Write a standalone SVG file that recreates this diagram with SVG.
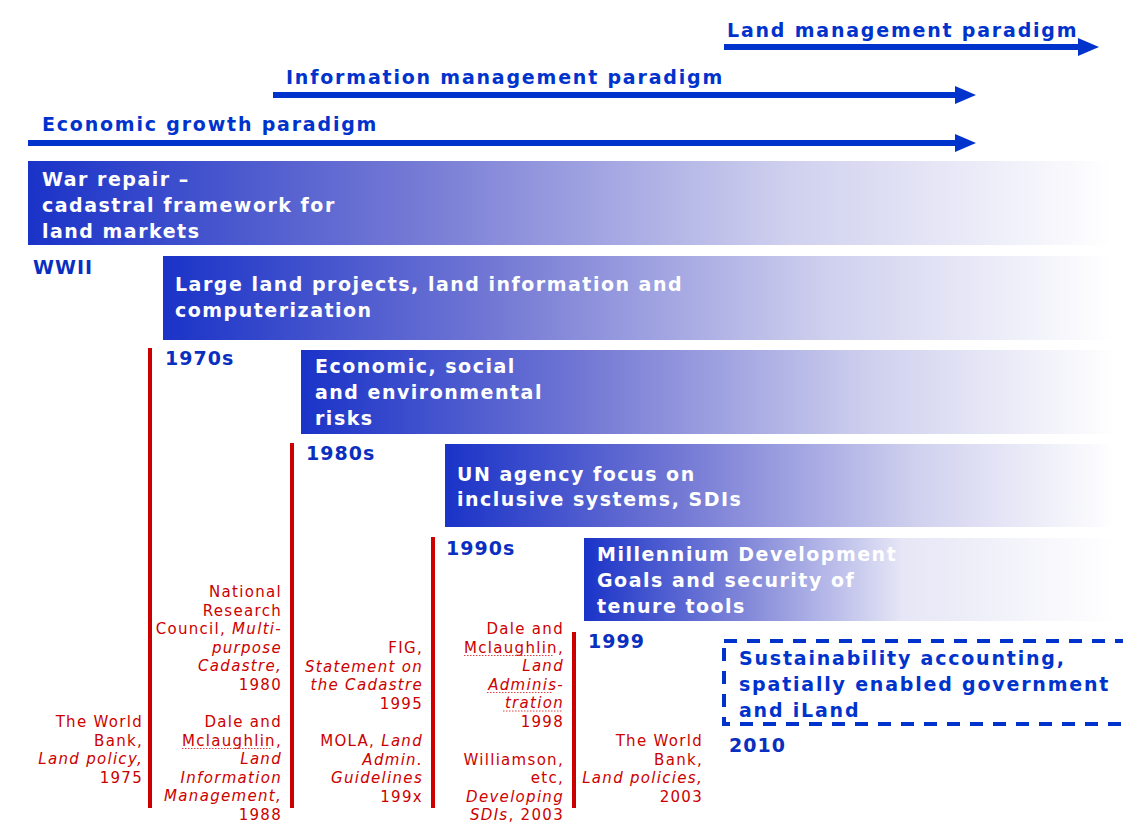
<svg xmlns="http://www.w3.org/2000/svg" width="1123" height="837" viewBox="0 0 1123 837">
<defs>
<linearGradient id="fade" x1="0" y1="0" x2="1" y2="0">
<stop offset="0" stop-color="#1a33c8"/>
<stop offset="0.35" stop-color="#7378d4"/>
<stop offset="0.7" stop-color="#cfd0ee"/>
<stop offset="1" stop-color="#ffffff"/>
</linearGradient>
<linearGradient id="fadeFast" x1="0" y1="0" x2="1" y2="0">
<stop offset="0" stop-color="#1a33c8"/>
<stop offset="0.3" stop-color="#8086d8"/>
<stop offset="0.6" stop-color="#e6e6f6"/>
<stop offset="1" stop-color="#ffffff"/>
</linearGradient>
<marker id="ah" markerUnits="userSpaceOnUse" markerWidth="22" markerHeight="20" refX="2" refY="10" orient="auto">
<path d="M0,1 L21,10 L0,19 Z" fill="#0033cc"/>
</marker>
</defs>
<style>
.hd{font-family:"DejaVu Sans","Verdana",sans-serif;font-weight:bold;font-size:19px;letter-spacing:1.8px;fill:#0033cc}
.bt{font-family:"DejaVu Sans","Verdana",sans-serif;font-weight:bold;font-size:19px;letter-spacing:1.5px;fill:#ffffff}
.yr{font-family:"DejaVu Sans","Verdana",sans-serif;font-weight:bold;font-size:19px;letter-spacing:1px;fill:#0a2fc0}
.rt{font-family:"DejaVu Sans","Verdana",sans-serif;font-size:15px;letter-spacing:1.3px;fill:#cc0000;text-anchor:end}
.it{font-style:italic}
.arr{stroke:#0033cc;stroke-width:6;fill:none}
.rl{stroke:#cc0000;stroke-width:4}
.dash{fill:none;stroke:#0033cc;stroke-width:4;stroke-dasharray:13 10}
.sq{stroke:#e04040;stroke-width:1;stroke-dasharray:1.5 1.5;fill:none}
</style>

<g id="connectors">
<line class="arr" x1="724" y1="47" x2="1080" y2="47" marker-end="url(#ah)"/>
<line class="arr" x1="273" y1="95" x2="957" y2="95" marker-end="url(#ah)"/>
<line class="arr" x1="28" y1="143" x2="957" y2="143" marker-end="url(#ah)"/>
<line class="rl" x1="150" y1="348" x2="150" y2="808"/>
<line class="rl" x1="292" y1="443" x2="292" y2="808"/>
<line class="rl" x1="433" y1="537" x2="433" y2="808"/>
<line class="rl" x1="574" y1="632" x2="574" y2="808"/>
</g>

<g id="paradigm-land"><text class="hd" x="727" y="37">Land management paradigm</text></g>
<g id="paradigm-info"><text class="hd" x="286" y="84">Information management paradigm</text></g>
<g id="paradigm-econ"><text class="hd" x="42" y="131">Economic growth paradigm</text></g>

<g id="bar-war">
<rect x="28" y="161" width="1084" height="84" fill="url(#fade)"/>
<text class="bt" x="42" y="186">War repair –</text>
<text class="bt" x="42" y="212">cadastral framework for</text>
<text class="bt" x="42" y="238">land markets</text>
</g>
<g id="label-wwii"><text class="yr" x="33" y="274">WWII</text></g>

<g id="bar-large">
<rect x="163" y="256" width="950" height="84" fill="url(#fade)"/>
<text class="bt" x="175" y="291">Large land projects, land information and</text>
<text class="bt" x="175" y="317">computerization</text>
</g>
<g id="label-1970s"><text class="yr" x="165" y="365">1970s</text></g>

<g id="bar-risks">
<rect x="301" y="350" width="814" height="84" fill="url(#fade)"/>
<text class="bt" x="315" y="373">Economic, social</text>
<text class="bt" x="315" y="399">and environmental</text>
<text class="bt" x="315" y="425">risks</text>
</g>
<g id="label-1980s"><text class="yr" x="306" y="460">1980s</text></g>

<g id="bar-un">
<rect x="445" y="444" width="670" height="83" fill="url(#fade)"/>
<text class="bt" x="457" y="481">UN agency focus on</text>
<text class="bt" x="457" y="506">inclusive systems, SDIs</text>
</g>
<g id="label-1990s"><text class="yr" x="446" y="555">1990s</text></g>

<g id="bar-mdg">
<rect x="584" y="538" width="531" height="83" fill="url(#fadeFast)"/>
<text class="bt" x="597" y="561">Millennium Development</text>
<text class="bt" x="597" y="587">Goals and security of</text>
<text class="bt" x="597" y="613">tenure tools</text>
</g>
<g id="label-1999"><text class="yr" x="588" y="648">1999</text></g>

<g id="box-sustainability">
<rect class="dash" x="724" y="641" width="410" height="83"/>
<text class="hd" x="739" y="665">Sustainability accounting,</text>
<text class="hd" x="739" y="691">spatially enabled government</text>
<text class="hd" x="739" y="717">and iLand</text>
</g>
<g id="label-2010"><text class="yr" x="729" y="752">2010</text></g>

<g id="ref-worldbank-1975">
<text class="rt" x="143" y="727">The World</text>
<text class="rt" x="143" y="745.5">Bank,</text>
<text class="rt it" x="143" y="764">Land policy,</text>
<text class="rt" x="143" y="782.5">1975</text>
</g>

<g id="ref-nrc-1980">
<text class="rt" x="282" y="597">National</text>
<text class="rt" x="282" y="615.5">Research</text>
<text class="rt" x="282" y="634">Council, <tspan class="it">Multi-</tspan></text>
<text class="rt it" x="282" y="652.5">purpose</text>
<text class="rt it" x="282" y="671">Cadastre,</text>
<text class="rt" x="282" y="689.5">1980</text>
</g>
<g id="ref-dale-1988">
<text class="rt" x="282" y="727">Dale and</text>
<text class="rt" x="282" y="745.5">Mclaughlin,</text>
<path class="sq" d="M182,748.5 H272"/>
<text class="rt it" x="282" y="764">Land</text>
<text class="rt it" x="282" y="782.5">Information</text>
<text class="rt it" x="282" y="801">Management,</text>
<text class="rt" x="282" y="819.5">1988</text>
</g>

<g id="ref-fig-1995">
<text class="rt" x="423" y="653">FIG,</text>
<text class="rt it" x="423" y="671.5">Statement on</text>
<text class="rt it" x="423" y="690">the Cadastre</text>
<text class="rt" x="423" y="708.5">1995</text>
</g>
<g id="ref-mola">
<text class="rt" x="423" y="746">MOLA, <tspan class="it">Land</tspan></text>
<text class="rt it" x="423" y="764.5">Admin.</text>
<text class="rt it" x="423" y="783">Guidelines</text>
<text class="rt" x="423" y="801.5">199x</text>
</g>

<g id="ref-dale-1998">
<text class="rt" x="564" y="634">Dale and</text>
<text class="rt" x="564" y="652.5">Mclaughlin,</text>
<path class="sq" d="M464,655.5 H554"/>
<text class="rt it" x="564" y="671">Land</text>
<text class="rt it" x="564" y="689.5">Adminis-</text>
<path class="sq" d="M487,692.5 H553"/>
<text class="rt it" x="564" y="708">tration</text>
<path class="sq" d="M503,711 H563"/>
<text class="rt" x="564" y="726.5">1998</text>
</g>
<g id="ref-williamson-2003">
<text class="rt" x="564" y="764.5">Williamson,</text>
<text class="rt" x="564" y="783">etc,</text>
<text class="rt it" x="564" y="801.5">Developing</text>
<text class="rt" x="564" y="820"><tspan class="it">SDIs</tspan>, 2003</text>
</g>

<g id="ref-worldbank-2003">
<text class="rt" x="703" y="746">The World</text>
<text class="rt" x="703" y="764.5">Bank,</text>
<text class="rt it" x="703" y="783">Land policies,</text>
<text class="rt" x="703" y="801.5">2003</text>
</g>
</svg>
